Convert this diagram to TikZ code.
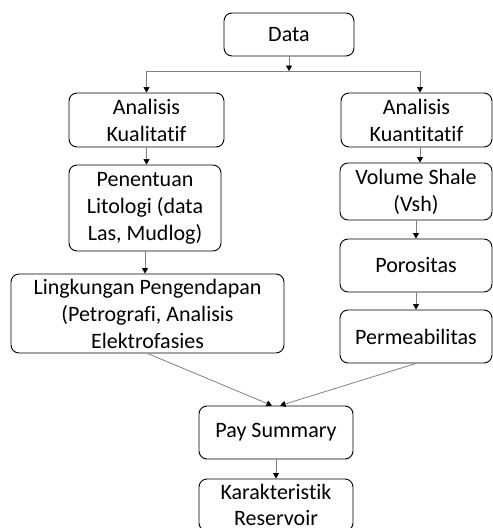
\documentclass[tikz,border=0pt]{standalone}
\usepackage{fontspec}
\setmainfont{Carlito}[Ligatures=NoCommon]
\usetikzlibrary{arrows.meta}
\begin{document}
\begin{tikzpicture}[x=1pt,y=-1pt,
  box/.style={draw=black, line width=0.9pt, rounded corners=8pt, align=center,
    font=\fontsize{22}{27}\selectfont, inner sep=0pt, fill=white},
  conn/.style={draw=black!50, line width=0.8pt, -{Triangle[length=5.5pt,width=6pt,black]}},
  plain/.style={draw=black!50, line width=0.8pt}]
\clip (0,0) rectangle (493,528);
\node[box, minimum width=130pt, minimum height=43pt] (data) at (289,34.5) {Data};
\node[box, minimum width=155pt, minimum height=54pt] (akl) at (146.5,120) {Analisis\\Kualitatif};
\node[box, minimum width=151pt, minimum height=54pt] (akn) at (416.5,120) {Analisis\\Kuantitatif};
\node[box, minimum width=152pt, minimum height=86pt] (pen) at (145,208) {Penentuan\\Litologi (data\\Las, Mudlog)};
\node[box, minimum width=273pt, minimum height=79pt] (ling) at (147.5,313.5) {Lingkungan Pengendapan\\(Petrografi, Analisis\\Elektrofasies};
\node[box, minimum width=152pt, minimum height=57pt] (vol) at (416,191.5) {Volume Shale\\(Vsh)};
\node[box, minimum width=152pt, minimum height=53pt] (por) at (416,265.5) {Porositas};
\node[box, minimum width=152pt, minimum height=53pt] (perm) at (416,336.5) {Permeabilitas};
\node[box, minimum width=154pt, minimum height=53pt] (pay) at (276,432.5) {Pay Summary};
\node[box, minimum width=154pt, minimum height=52pt, font=\fontsize{22}{26}\selectfont] (kar) at (276,505) {Karakteristik\\Reservoir};
\coordinate (jm) at (289,71);
\coordinate (jl) at (146.5,71);
\coordinate (jr) at (420,71);
\draw[conn] (data.south) -- (jm);
\draw[plain] (jl) -- (jr);
\draw[conn] (jl) -- (akl.north);
\draw[conn] (jr) -- (jr |- akn.north);
\draw[conn] (akl.south) -- (akl.south |- pen.north);
\draw[conn] (pen.south) -- (pen.south |- ling.north);
\draw[conn] (akn.south -| jr) -- (jr |- vol.north);
\draw[conn] (vol.south) -- (por.north);
\draw[conn] (por.south) -- (perm.north);
\draw[conn] (ling.south) -- ([xshift=-4pt]pay.north);
\draw[conn] (perm.south) -- ([xshift=4pt]pay.north);
\draw[conn] (pay.south) -- (kar.north);
\end{tikzpicture}
\end{document}
